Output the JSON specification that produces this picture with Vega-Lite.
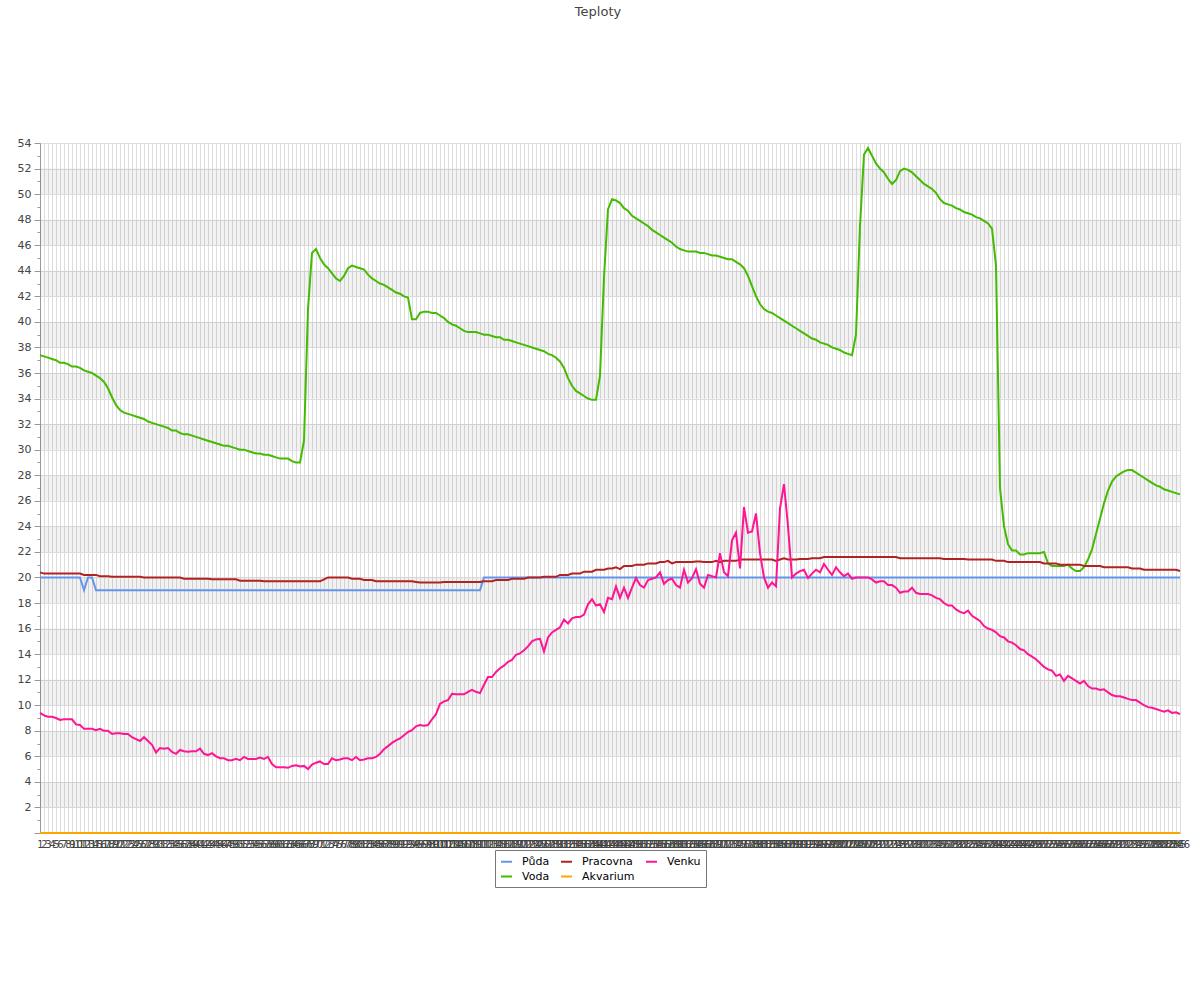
{
"$schema": "https://vega.github.io/schema/vega-lite/v6.json",
"width": 1140, "height": 690,
"autosize": "none",
"padding": {"left": 40, "top": 143, "right": 20, "bottom": 167},
"background": "white",
"config": {"font": "DejaVu Sans", "view": {"stroke": null}},
"title": {"text": "Teploty", "fontSize": 13, "fontWeight": "normal", "color": "#444", "offset": 118, "anchor": "middle", "dx": -12},
"datasets": {
"bands": [{"lo":2,"hi":4},{"lo":6,"hi":8},{"lo":10,"hi":12},{"lo":14,"hi":16},{"lo":18,"hi":20},{"lo":22,"hi":24},{"lo":26,"hi":28},{"lo":30,"hi":32},{"lo":34,"hi":36},{"lo":38,"hi":40},{"lo":42,"hi":44},{"lo":46,"hi":48},{"lo":50,"hi":52}],
"temps": [
{"t":1,"Půda":20,"Voda":37.4,"Pracovna":20.4,"Akvarium":0,"Venku":9.4},
{"t":2,"Půda":20,"Voda":37.3,"Pracovna":20.3,"Akvarium":0,"Venku":9.2},
{"t":3,"Půda":20,"Voda":37.2,"Pracovna":20.3,"Akvarium":0,"Venku":9.1},
{"t":4,"Půda":20,"Voda":37.1,"Pracovna":20.3,"Akvarium":0,"Venku":9.1},
{"t":5,"Půda":20,"Voda":37.0,"Pracovna":20.3,"Akvarium":0,"Venku":9.0},
{"t":6,"Půda":20,"Voda":36.8,"Pracovna":20.3,"Akvarium":0,"Venku":8.85},
{"t":7,"Půda":20,"Voda":36.8,"Pracovna":20.3,"Akvarium":0,"Venku":8.9},
{"t":8,"Půda":20,"Voda":36.7,"Pracovna":20.3,"Akvarium":0,"Venku":8.9},
{"t":9,"Půda":20,"Voda":36.5,"Pracovna":20.3,"Akvarium":0,"Venku":8.9},
{"t":10,"Půda":20,"Voda":36.5,"Pracovna":20.3,"Akvarium":0,"Venku":8.5},
{"t":11,"Půda":20,"Voda":36.4,"Pracovna":20.3,"Akvarium":0,"Venku":8.45},
{"t":12,"Půda":19,"Voda":36.2,"Pracovna":20.2,"Akvarium":0,"Venku":8.15},
{"t":13,"Půda":20,"Voda":36.1,"Pracovna":20.2,"Akvarium":0,"Venku":8.15},
{"t":14,"Půda":20,"Voda":36.0,"Pracovna":20.2,"Akvarium":0,"Venku":8.15},
{"t":15,"Půda":19,"Voda":35.8,"Pracovna":20.2,"Akvarium":0,"Venku":8.05},
{"t":16,"Půda":19,"Voda":35.6,"Pracovna":20.1,"Akvarium":0,"Venku":8.15},
{"t":17,"Půda":19,"Voda":35.3,"Pracovna":20.1,"Akvarium":0,"Venku":8.0},
{"t":18,"Půda":19,"Voda":34.8,"Pracovna":20.1,"Akvarium":0,"Venku":8.0},
{"t":19,"Půda":19,"Voda":34.1,"Pracovna":20.05,"Akvarium":0,"Venku":7.75},
{"t":20,"Půda":19,"Voda":33.5,"Pracovna":20.05,"Akvarium":0,"Venku":7.8},
{"t":21,"Půda":19,"Voda":33.1,"Pracovna":20.05,"Akvarium":0,"Venku":7.8},
{"t":22,"Půda":19,"Voda":32.9,"Pracovna":20.05,"Akvarium":0,"Venku":7.75},
{"t":23,"Půda":19,"Voda":32.8,"Pracovna":20.05,"Akvarium":0,"Venku":7.75},
{"t":24,"Půda":19,"Voda":32.7,"Pracovna":20.05,"Akvarium":0,"Venku":7.5},
{"t":25,"Půda":19,"Voda":32.6,"Pracovna":20.05,"Akvarium":0,"Venku":7.35},
{"t":26,"Půda":19,"Voda":32.5,"Pracovna":20.05,"Akvarium":0,"Venku":7.2},
{"t":27,"Půda":19,"Voda":32.4,"Pracovna":20.0,"Akvarium":0,"Venku":7.5},
{"t":28,"Půda":19,"Voda":32.2,"Pracovna":20.0,"Akvarium":0,"Venku":7.2},
{"t":29,"Půda":19,"Voda":32.1,"Pracovna":20.0,"Akvarium":0,"Venku":6.9},
{"t":30,"Půda":19,"Voda":32.0,"Pracovna":20.0,"Akvarium":0,"Venku":6.3},
{"t":31,"Půda":19,"Voda":31.9,"Pracovna":20.0,"Akvarium":0,"Venku":6.65},
{"t":32,"Půda":19,"Voda":31.8,"Pracovna":20.0,"Akvarium":0,"Venku":6.6},
{"t":33,"Půda":19,"Voda":31.7,"Pracovna":20.0,"Akvarium":0,"Venku":6.65},
{"t":34,"Půda":19,"Voda":31.5,"Pracovna":20.0,"Akvarium":0,"Venku":6.35},
{"t":35,"Půda":19,"Voda":31.5,"Pracovna":20.0,"Akvarium":0,"Venku":6.2},
{"t":36,"Půda":19,"Voda":31.3,"Pracovna":20.0,"Akvarium":0,"Venku":6.5},
{"t":37,"Půda":19,"Voda":31.2,"Pracovna":19.9,"Akvarium":0,"Venku":6.4},
{"t":38,"Půda":19,"Voda":31.2,"Pracovna":19.9,"Akvarium":0,"Venku":6.35},
{"t":39,"Půda":19,"Voda":31.1,"Pracovna":19.9,"Akvarium":0,"Venku":6.4},
{"t":40,"Půda":19,"Voda":31.0,"Pracovna":19.9,"Akvarium":0,"Venku":6.4},
{"t":41,"Půda":19,"Voda":30.9,"Pracovna":19.9,"Akvarium":0,"Venku":6.6},
{"t":42,"Půda":19,"Voda":30.8,"Pracovna":19.9,"Akvarium":0,"Venku":6.2},
{"t":43,"Půda":19,"Voda":30.7,"Pracovna":19.9,"Akvarium":0,"Venku":6.1},
{"t":44,"Půda":19,"Voda":30.6,"Pracovna":19.85,"Akvarium":0,"Venku":6.25},
{"t":45,"Půda":19,"Voda":30.5,"Pracovna":19.85,"Akvarium":0,"Venku":6.0},
{"t":46,"Půda":19,"Voda":30.4,"Pracovna":19.85,"Akvarium":0,"Venku":5.85},
{"t":47,"Půda":19,"Voda":30.3,"Pracovna":19.85,"Akvarium":0,"Venku":5.85},
{"t":48,"Půda":19,"Voda":30.3,"Pracovna":19.85,"Akvarium":0,"Venku":5.7},
{"t":49,"Půda":19,"Voda":30.2,"Pracovna":19.85,"Akvarium":0,"Venku":5.7},
{"t":50,"Půda":19,"Voda":30.1,"Pracovna":19.85,"Akvarium":0,"Venku":5.8},
{"t":51,"Půda":19,"Voda":30.0,"Pracovna":19.75,"Akvarium":0,"Venku":5.7},
{"t":52,"Půda":19,"Voda":30.0,"Pracovna":19.75,"Akvarium":0,"Venku":5.95},
{"t":53,"Půda":19,"Voda":29.9,"Pracovna":19.75,"Akvarium":0,"Venku":5.8},
{"t":54,"Půda":19,"Voda":29.8,"Pracovna":19.75,"Akvarium":0,"Venku":5.8},
{"t":55,"Půda":19,"Voda":29.7,"Pracovna":19.75,"Akvarium":0,"Venku":5.8},
{"t":56,"Půda":19,"Voda":29.7,"Pracovna":19.75,"Akvarium":0,"Venku":5.9},
{"t":57,"Půda":19,"Voda":29.6,"Pracovna":19.7,"Akvarium":0,"Venku":5.8},
{"t":58,"Půda":19,"Voda":29.6,"Pracovna":19.7,"Akvarium":0,"Venku":5.95},
{"t":59,"Půda":19,"Voda":29.5,"Pracovna":19.7,"Akvarium":0,"Venku":5.4},
{"t":60,"Půda":19,"Voda":29.4,"Pracovna":19.7,"Akvarium":0,"Venku":5.15},
{"t":61,"Půda":19,"Voda":29.3,"Pracovna":19.7,"Akvarium":0,"Venku":5.15},
{"t":62,"Půda":19,"Voda":29.3,"Pracovna":19.7,"Akvarium":0,"Venku":5.15},
{"t":63,"Půda":19,"Voda":29.3,"Pracovna":19.7,"Akvarium":0,"Venku":5.1},
{"t":64,"Půda":19,"Voda":29.1,"Pracovna":19.7,"Akvarium":0,"Venku":5.25},
{"t":65,"Půda":19,"Voda":29.0,"Pracovna":19.7,"Akvarium":0,"Venku":5.3},
{"t":66,"Půda":19,"Voda":29.0,"Pracovna":19.7,"Akvarium":0,"Venku":5.2},
{"t":67,"Půda":19,"Voda":30.7,"Pracovna":19.7,"Akvarium":0,"Venku":5.25},
{"t":68,"Půda":19,"Voda":41.0,"Pracovna":19.7,"Akvarium":0,"Venku":5.0},
{"t":69,"Půda":19,"Voda":45.4,"Pracovna":19.7,"Akvarium":0,"Venku":5.35},
{"t":70,"Půda":19,"Voda":45.7,"Pracovna":19.7,"Akvarium":0,"Venku":5.5},
{"t":71,"Půda":19,"Voda":45.0,"Pracovna":19.7,"Akvarium":0,"Venku":5.6},
{"t":72,"Půda":19,"Voda":44.5,"Pracovna":19.85,"Akvarium":0,"Venku":5.4},
{"t":73,"Půda":19,"Voda":44.2,"Pracovna":20.0,"Akvarium":0,"Venku":5.4},
{"t":74,"Půda":19,"Voda":43.8,"Pracovna":20.0,"Akvarium":0,"Venku":5.85},
{"t":75,"Půda":19,"Voda":43.4,"Pracovna":20.0,"Akvarium":0,"Venku":5.7},
{"t":76,"Půda":19,"Voda":43.2,"Pracovna":20.0,"Akvarium":0,"Venku":5.75},
{"t":77,"Půda":19,"Voda":43.6,"Pracovna":20.0,"Akvarium":0,"Venku":5.85},
{"t":78,"Půda":19,"Voda":44.2,"Pracovna":20.0,"Akvarium":0,"Venku":5.85},
{"t":79,"Půda":19,"Voda":44.4,"Pracovna":19.9,"Akvarium":0,"Venku":5.7},
{"t":80,"Půda":19,"Voda":44.3,"Pracovna":19.9,"Akvarium":0,"Venku":5.95},
{"t":81,"Půda":19,"Voda":44.2,"Pracovna":19.9,"Akvarium":0,"Venku":5.7},
{"t":82,"Půda":19,"Voda":44.1,"Pracovna":19.8,"Akvarium":0,"Venku":5.75},
{"t":83,"Půda":19,"Voda":43.7,"Pracovna":19.8,"Akvarium":0,"Venku":5.85},
{"t":84,"Půda":19,"Voda":43.4,"Pracovna":19.8,"Akvarium":0,"Venku":5.85},
{"t":85,"Půda":19,"Voda":43.2,"Pracovna":19.7,"Akvarium":0,"Venku":5.95},
{"t":86,"Půda":19,"Voda":43.0,"Pracovna":19.7,"Akvarium":0,"Venku":6.2},
{"t":87,"Půda":19,"Voda":42.9,"Pracovna":19.7,"Akvarium":0,"Venku":6.55},
{"t":88,"Půda":19,"Voda":42.7,"Pracovna":19.7,"Akvarium":0,"Venku":6.8},
{"t":89,"Půda":19,"Voda":42.5,"Pracovna":19.7,"Akvarium":0,"Venku":7.05},
{"t":90,"Půda":19,"Voda":42.3,"Pracovna":19.7,"Akvarium":0,"Venku":7.25},
{"t":91,"Půda":19,"Voda":42.2,"Pracovna":19.7,"Akvarium":0,"Venku":7.4},
{"t":92,"Půda":19,"Voda":42.0,"Pracovna":19.7,"Akvarium":0,"Venku":7.65},
{"t":93,"Půda":19,"Voda":41.9,"Pracovna":19.7,"Akvarium":0,"Venku":7.9},
{"t":94,"Půda":19,"Voda":40.2,"Pracovna":19.7,"Akvarium":0,"Venku":8.05},
{"t":95,"Půda":19,"Voda":40.2,"Pracovna":19.65,"Akvarium":0,"Venku":8.35},
{"t":96,"Půda":19,"Voda":40.7,"Pracovna":19.6,"Akvarium":0,"Venku":8.45},
{"t":97,"Půda":19,"Voda":40.8,"Pracovna":19.6,"Akvarium":0,"Venku":8.4},
{"t":98,"Půda":19,"Voda":40.8,"Pracovna":19.6,"Akvarium":0,"Venku":8.45},
{"t":99,"Půda":19,"Voda":40.7,"Pracovna":19.6,"Akvarium":0,"Venku":8.9},
{"t":100,"Půda":19,"Voda":40.7,"Pracovna":19.6,"Akvarium":0,"Venku":9.3},
{"t":101,"Půda":19,"Voda":40.5,"Pracovna":19.6,"Akvarium":0,"Venku":10.1},
{"t":102,"Půda":19,"Voda":40.3,"Pracovna":19.65,"Akvarium":0,"Venku":10.3},
{"t":103,"Půda":19,"Voda":40.0,"Pracovna":19.65,"Akvarium":0,"Venku":10.4},
{"t":104,"Půda":19,"Voda":39.8,"Pracovna":19.65,"Akvarium":0,"Venku":10.9},
{"t":105,"Půda":19,"Voda":39.7,"Pracovna":19.65,"Akvarium":0,"Venku":10.85},
{"t":106,"Půda":19,"Voda":39.5,"Pracovna":19.65,"Akvarium":0,"Venku":10.85},
{"t":107,"Půda":19,"Voda":39.3,"Pracovna":19.65,"Akvarium":0,"Venku":10.85},
{"t":108,"Půda":19,"Voda":39.2,"Pracovna":19.65,"Akvarium":0,"Venku":11.05},
{"t":109,"Půda":19,"Voda":39.2,"Pracovna":19.65,"Akvarium":0,"Venku":11.2},
{"t":110,"Půda":19,"Voda":39.2,"Pracovna":19.65,"Akvarium":0,"Venku":11.05},
{"t":111,"Půda":19,"Voda":39.1,"Pracovna":19.65,"Akvarium":0,"Venku":10.95},
{"t":112,"Půda":20,"Voda":39.0,"Pracovna":19.7,"Akvarium":0,"Venku":11.6},
{"t":113,"Půda":20,"Voda":39.0,"Pracovna":19.7,"Akvarium":0,"Venku":12.2},
{"t":114,"Půda":20,"Voda":38.9,"Pracovna":19.7,"Akvarium":0,"Venku":12.2},
{"t":115,"Půda":20,"Voda":38.8,"Pracovna":19.8,"Akvarium":0,"Venku":12.6},
{"t":116,"Půda":20,"Voda":38.8,"Pracovna":19.8,"Akvarium":0,"Venku":12.9},
{"t":117,"Půda":20,"Voda":38.6,"Pracovna":19.8,"Akvarium":0,"Venku":13.1},
{"t":118,"Půda":20,"Voda":38.6,"Pracovna":19.8,"Akvarium":0,"Venku":13.4},
{"t":119,"Půda":20,"Voda":38.5,"Pracovna":19.9,"Akvarium":0,"Venku":13.55},
{"t":120,"Půda":20,"Voda":38.4,"Pracovna":19.9,"Akvarium":0,"Venku":13.95},
{"t":121,"Půda":20,"Voda":38.3,"Pracovna":19.9,"Akvarium":0,"Venku":14.05},
{"t":122,"Půda":20,"Voda":38.2,"Pracovna":19.9,"Akvarium":0,"Venku":14.3},
{"t":123,"Půda":20,"Voda":38.1,"Pracovna":20.0,"Akvarium":0,"Venku":14.6},
{"t":124,"Půda":20,"Voda":38.0,"Pracovna":20.0,"Akvarium":0,"Venku":15.0},
{"t":125,"Půda":20,"Voda":37.9,"Pracovna":20.0,"Akvarium":0,"Venku":15.15},
{"t":126,"Půda":20,"Voda":37.8,"Pracovna":20.0,"Akvarium":0,"Venku":15.2},
{"t":127,"Půda":20,"Voda":37.7,"Pracovna":20.05,"Akvarium":0,"Venku":14.2},
{"t":128,"Půda":20,"Voda":37.5,"Pracovna":20.05,"Akvarium":0,"Venku":15.3},
{"t":129,"Půda":20,"Voda":37.4,"Pracovna":20.05,"Akvarium":0,"Venku":15.7},
{"t":130,"Půda":20,"Voda":37.2,"Pracovna":20.05,"Akvarium":0,"Venku":15.9},
{"t":131,"Půda":20,"Voda":36.9,"Pracovna":20.2,"Akvarium":0,"Venku":16.1},
{"t":132,"Půda":20,"Voda":36.4,"Pracovna":20.2,"Akvarium":0,"Venku":16.7},
{"t":133,"Půda":20,"Voda":35.6,"Pracovna":20.2,"Akvarium":0,"Venku":16.4},
{"t":134,"Půda":20,"Voda":35.0,"Pracovna":20.3,"Akvarium":0,"Venku":16.8},
{"t":135,"Půda":20,"Voda":34.6,"Pracovna":20.3,"Akvarium":0,"Venku":16.9},
{"t":136,"Půda":20,"Voda":34.4,"Pracovna":20.3,"Akvarium":0,"Venku":16.9},
{"t":137,"Půda":20,"Voda":34.2,"Pracovna":20.45,"Akvarium":0,"Venku":17.1},
{"t":138,"Půda":20,"Voda":34.0,"Pracovna":20.45,"Akvarium":0,"Venku":17.9},
{"t":139,"Půda":20,"Voda":33.9,"Pracovna":20.45,"Akvarium":0,"Venku":18.3},
{"t":140,"Půda":20,"Voda":33.9,"Pracovna":20.6,"Akvarium":0,"Venku":17.8},
{"t":141,"Půda":20,"Voda":35.8,"Pracovna":20.6,"Akvarium":0,"Venku":17.9},
{"t":142,"Půda":20,"Voda":43.5,"Pracovna":20.6,"Akvarium":0,"Venku":17.3},
{"t":143,"Půda":20,"Voda":48.8,"Pracovna":20.7,"Akvarium":0,"Venku":18.4},
{"t":144,"Půda":20,"Voda":49.6,"Pracovna":20.7,"Akvarium":0,"Venku":18.3},
{"t":145,"Půda":20,"Voda":49.5,"Pracovna":20.8,"Akvarium":0,"Venku":19.3},
{"t":146,"Půda":20,"Voda":49.3,"Pracovna":20.65,"Akvarium":0,"Venku":18.4},
{"t":147,"Půda":20,"Voda":48.9,"Pracovna":20.9,"Akvarium":0,"Venku":19.2},
{"t":148,"Půda":20,"Voda":48.7,"Pracovna":20.9,"Akvarium":0,"Venku":18.4},
{"t":149,"Půda":20,"Voda":48.3,"Pracovna":20.9,"Akvarium":0,"Venku":19.2},
{"t":150,"Půda":20,"Voda":48.1,"Pracovna":21.0,"Akvarium":0,"Venku":19.95},
{"t":151,"Půda":20,"Voda":47.9,"Pracovna":21.0,"Akvarium":0,"Venku":19.4},
{"t":152,"Půda":20,"Voda":47.7,"Pracovna":21.0,"Akvarium":0,"Venku":19.2},
{"t":153,"Půda":20,"Voda":47.5,"Pracovna":21.1,"Akvarium":0,"Venku":19.8},
{"t":154,"Půda":20,"Voda":47.2,"Pracovna":21.1,"Akvarium":0,"Venku":19.9},
{"t":155,"Půda":20,"Voda":47.0,"Pracovna":21.1,"Akvarium":0,"Venku":20.0},
{"t":156,"Půda":20,"Voda":46.8,"Pracovna":21.2,"Akvarium":0,"Venku":20.4},
{"t":157,"Půda":20,"Voda":46.6,"Pracovna":21.2,"Akvarium":0,"Venku":19.5},
{"t":158,"Půda":20,"Voda":46.4,"Pracovna":21.3,"Akvarium":0,"Venku":19.8},
{"t":159,"Půda":20,"Voda":46.2,"Pracovna":21.1,"Akvarium":0,"Venku":19.9},
{"t":160,"Půda":20,"Voda":45.9,"Pracovna":21.2,"Akvarium":0,"Venku":19.4},
{"t":161,"Půda":20,"Voda":45.7,"Pracovna":21.2,"Akvarium":0,"Venku":19.2},
{"t":162,"Půda":20,"Voda":45.6,"Pracovna":21.2,"Akvarium":0,"Venku":20.6},
{"t":163,"Půda":20,"Voda":45.5,"Pracovna":21.2,"Akvarium":0,"Venku":19.6},
{"t":164,"Půda":20,"Voda":45.5,"Pracovna":21.2,"Akvarium":0,"Venku":19.95},
{"t":165,"Půda":20,"Voda":45.5,"Pracovna":21.25,"Akvarium":0,"Venku":20.65},
{"t":166,"Půda":20,"Voda":45.4,"Pracovna":21.25,"Akvarium":0,"Venku":19.5},
{"t":167,"Půda":20,"Voda":45.4,"Pracovna":21.2,"Akvarium":0,"Venku":19.2},
{"t":168,"Půda":20,"Voda":45.3,"Pracovna":21.2,"Akvarium":0,"Venku":20.2},
{"t":169,"Půda":20,"Voda":45.2,"Pracovna":21.2,"Akvarium":0,"Venku":20.1},
{"t":170,"Půda":20,"Voda":45.2,"Pracovna":21.3,"Akvarium":0,"Venku":20.0},
{"t":171,"Půda":20,"Voda":45.1,"Pracovna":21.2,"Akvarium":0,"Venku":21.9},
{"t":172,"Půda":20,"Voda":45.0,"Pracovna":21.3,"Akvarium":0,"Venku":20.4},
{"t":173,"Půda":20,"Voda":44.9,"Pracovna":21.3,"Akvarium":0,"Venku":20.1},
{"t":174,"Půda":20,"Voda":44.9,"Pracovna":21.3,"Akvarium":0,"Venku":22.9},
{"t":175,"Půda":20,"Voda":44.7,"Pracovna":21.3,"Akvarium":0,"Venku":23.5},
{"t":176,"Půda":20,"Voda":44.5,"Pracovna":21.4,"Akvarium":0,"Venku":20.7},
{"t":177,"Půda":20,"Voda":44.2,"Pracovna":21.4,"Akvarium":0,"Venku":25.5},
{"t":178,"Půda":20,"Voda":43.6,"Pracovna":21.4,"Akvarium":0,"Venku":23.5},
{"t":179,"Půda":20,"Voda":42.8,"Pracovna":21.4,"Akvarium":0,"Venku":23.6},
{"t":180,"Půda":20,"Voda":42.0,"Pracovna":21.4,"Akvarium":0,"Venku":25.0},
{"t":181,"Půda":20,"Voda":41.4,"Pracovna":21.4,"Akvarium":0,"Venku":21.9},
{"t":182,"Půda":20,"Voda":41.0,"Pracovna":21.4,"Akvarium":0,"Venku":20.0},
{"t":183,"Půda":20,"Voda":40.8,"Pracovna":21.4,"Akvarium":0,"Venku":19.2},
{"t":184,"Půda":20,"Voda":40.7,"Pracovna":21.4,"Akvarium":0,"Venku":19.6},
{"t":185,"Půda":20,"Voda":40.5,"Pracovna":21.3,"Akvarium":0,"Venku":19.3},
{"t":186,"Půda":20,"Voda":40.3,"Pracovna":21.4,"Akvarium":0,"Venku":25.4},
{"t":187,"Půda":20,"Voda":40.1,"Pracovna":21.5,"Akvarium":0,"Venku":27.3},
{"t":188,"Půda":20,"Voda":39.9,"Pracovna":21.4,"Akvarium":0,"Venku":24.0},
{"t":189,"Půda":20,"Voda":39.7,"Pracovna":21.4,"Akvarium":0,"Venku":20.0},
{"t":190,"Půda":20,"Voda":39.5,"Pracovna":21.4,"Akvarium":0,"Venku":20.3},
{"t":191,"Půda":20,"Voda":39.3,"Pracovna":21.45,"Akvarium":0,"Venku":20.5},
{"t":192,"Půda":20,"Voda":39.1,"Pracovna":21.45,"Akvarium":0,"Venku":20.6},
{"t":193,"Půda":20,"Voda":38.9,"Pracovna":21.45,"Akvarium":0,"Venku":19.95},
{"t":194,"Půda":20,"Voda":38.7,"Pracovna":21.5,"Akvarium":0,"Venku":20.3},
{"t":195,"Půda":20,"Voda":38.6,"Pracovna":21.5,"Akvarium":0,"Venku":20.6},
{"t":196,"Půda":20,"Voda":38.4,"Pracovna":21.5,"Akvarium":0,"Venku":20.4},
{"t":197,"Půda":20,"Voda":38.3,"Pracovna":21.6,"Akvarium":0,"Venku":21.05},
{"t":198,"Půda":20,"Voda":38.2,"Pracovna":21.6,"Akvarium":0,"Venku":20.6},
{"t":199,"Půda":20,"Voda":38.0,"Pracovna":21.6,"Akvarium":0,"Venku":20.2},
{"t":200,"Půda":20,"Voda":37.9,"Pracovna":21.6,"Akvarium":0,"Venku":20.8},
{"t":201,"Půda":20,"Voda":37.8,"Pracovna":21.6,"Akvarium":0,"Venku":20.4},
{"t":202,"Půda":20,"Voda":37.6,"Pracovna":21.6,"Akvarium":0,"Venku":20.1},
{"t":203,"Půda":20,"Voda":37.5,"Pracovna":21.6,"Akvarium":0,"Venku":20.3},
{"t":204,"Půda":20,"Voda":37.4,"Pracovna":21.6,"Akvarium":0,"Venku":19.9},
{"t":205,"Půda":20,"Voda":39.0,"Pracovna":21.6,"Akvarium":0,"Venku":20.0},
{"t":206,"Půda":20,"Voda":47.5,"Pracovna":21.6,"Akvarium":0,"Venku":20.0},
{"t":207,"Půda":20,"Voda":53.1,"Pracovna":21.6,"Akvarium":0,"Venku":20.0},
{"t":208,"Půda":20,"Voda":53.6,"Pracovna":21.6,"Akvarium":0,"Venku":20.0},
{"t":209,"Půda":20,"Voda":53.0,"Pracovna":21.6,"Akvarium":0,"Venku":19.85},
{"t":210,"Půda":20,"Voda":52.4,"Pracovna":21.6,"Akvarium":0,"Venku":19.6},
{"t":211,"Půda":20,"Voda":52.0,"Pracovna":21.6,"Akvarium":0,"Venku":19.7},
{"t":212,"Půda":20,"Voda":51.7,"Pracovna":21.6,"Akvarium":0,"Venku":19.7},
{"t":213,"Půda":20,"Voda":51.2,"Pracovna":21.6,"Akvarium":0,"Venku":19.4},
{"t":214,"Půda":20,"Voda":50.8,"Pracovna":21.6,"Akvarium":0,"Venku":19.4},
{"t":215,"Půda":20,"Voda":51.1,"Pracovna":21.6,"Akvarium":0,"Venku":19.2},
{"t":216,"Půda":20,"Voda":51.8,"Pracovna":21.5,"Akvarium":0,"Venku":18.8},
{"t":217,"Půda":20,"Voda":52.0,"Pracovna":21.5,"Akvarium":0,"Venku":18.9},
{"t":218,"Půda":20,"Voda":51.9,"Pracovna":21.5,"Akvarium":0,"Venku":18.9},
{"t":219,"Půda":20,"Voda":51.7,"Pracovna":21.5,"Akvarium":0,"Venku":19.2},
{"t":220,"Půda":20,"Voda":51.4,"Pracovna":21.5,"Akvarium":0,"Venku":18.8},
{"t":221,"Půda":20,"Voda":51.1,"Pracovna":21.5,"Akvarium":0,"Venku":18.7},
{"t":222,"Půda":20,"Voda":50.8,"Pracovna":21.5,"Akvarium":0,"Venku":18.7},
{"t":223,"Půda":20,"Voda":50.6,"Pracovna":21.5,"Akvarium":0,"Venku":18.7},
{"t":224,"Půda":20,"Voda":50.4,"Pracovna":21.5,"Akvarium":0,"Venku":18.6},
{"t":225,"Půda":20,"Voda":50.1,"Pracovna":21.5,"Akvarium":0,"Venku":18.4},
{"t":226,"Půda":20,"Voda":49.6,"Pracovna":21.5,"Akvarium":0,"Venku":18.3},
{"t":227,"Půda":20,"Voda":49.3,"Pracovna":21.45,"Akvarium":0,"Venku":18.0},
{"t":228,"Půda":20,"Voda":49.2,"Pracovna":21.45,"Akvarium":0,"Venku":17.8},
{"t":229,"Půda":20,"Voda":49.1,"Pracovna":21.45,"Akvarium":0,"Venku":17.8},
{"t":230,"Půda":20,"Voda":48.9,"Pracovna":21.45,"Akvarium":0,"Venku":17.5},
{"t":231,"Půda":20,"Voda":48.8,"Pracovna":21.45,"Akvarium":0,"Venku":17.3},
{"t":232,"Půda":20,"Voda":48.6,"Pracovna":21.45,"Akvarium":0,"Venku":17.2},
{"t":233,"Půda":20,"Voda":48.5,"Pracovna":21.4,"Akvarium":0,"Venku":17.4},
{"t":234,"Půda":20,"Voda":48.4,"Pracovna":21.4,"Akvarium":0,"Venku":17.0},
{"t":235,"Půda":20,"Voda":48.2,"Pracovna":21.4,"Akvarium":0,"Venku":16.8},
{"t":236,"Půda":20,"Voda":48.1,"Pracovna":21.4,"Akvarium":0,"Venku":16.6},
{"t":237,"Půda":20,"Voda":47.9,"Pracovna":21.4,"Akvarium":0,"Venku":16.2},
{"t":238,"Půda":20,"Voda":47.7,"Pracovna":21.4,"Akvarium":0,"Venku":16.0},
{"t":239,"Půda":20,"Voda":47.3,"Pracovna":21.4,"Akvarium":0,"Venku":15.9},
{"t":240,"Půda":20,"Voda":44.4,"Pracovna":21.3,"Akvarium":0,"Venku":15.7},
{"t":241,"Půda":20,"Voda":27.0,"Pracovna":21.3,"Akvarium":0,"Venku":15.4},
{"t":242,"Půda":20,"Voda":24.0,"Pracovna":21.3,"Akvarium":0,"Venku":15.3},
{"t":243,"Půda":20,"Voda":22.6,"Pracovna":21.2,"Akvarium":0,"Venku":15.0},
{"t":244,"Půda":20,"Voda":22.1,"Pracovna":21.2,"Akvarium":0,"Venku":14.9},
{"t":245,"Půda":20,"Voda":22.1,"Pracovna":21.2,"Akvarium":0,"Venku":14.7},
{"t":246,"Půda":20,"Voda":21.8,"Pracovna":21.2,"Akvarium":0,"Venku":14.4},
{"t":247,"Půda":20,"Voda":21.8,"Pracovna":21.2,"Akvarium":0,"Venku":14.3},
{"t":248,"Půda":20,"Voda":21.9,"Pracovna":21.2,"Akvarium":0,"Venku":14.0},
{"t":249,"Půda":20,"Voda":21.9,"Pracovna":21.2,"Akvarium":0,"Venku":13.8},
{"t":250,"Půda":20,"Voda":21.9,"Pracovna":21.2,"Akvarium":0,"Venku":13.6},
{"t":251,"Půda":20,"Voda":21.9,"Pracovna":21.2,"Akvarium":0,"Venku":13.3},
{"t":252,"Půda":20,"Voda":22.0,"Pracovna":21.1,"Akvarium":0,"Venku":13.0},
{"t":253,"Půda":20,"Voda":21.1,"Pracovna":21.1,"Akvarium":0,"Venku":12.8},
{"t":254,"Půda":20,"Voda":20.9,"Pracovna":21.1,"Akvarium":0,"Venku":12.7},
{"t":255,"Půda":20,"Voda":20.9,"Pracovna":21.1,"Akvarium":0,"Venku":12.3},
{"t":256,"Půda":20,"Voda":20.9,"Pracovna":21.0,"Akvarium":0,"Venku":12.4},
{"t":257,"Půda":20,"Voda":20.9,"Pracovna":21.0,"Akvarium":0,"Venku":11.9},
{"t":258,"Půda":20,"Voda":21.0,"Pracovna":21.0,"Akvarium":0,"Venku":12.3},
{"t":259,"Půda":20,"Voda":20.7,"Pracovna":21.0,"Akvarium":0,"Venku":12.1},
{"t":260,"Půda":20,"Voda":20.5,"Pracovna":21.0,"Akvarium":0,"Venku":11.9},
{"t":261,"Půda":20,"Voda":20.5,"Pracovna":21.0,"Akvarium":0,"Venku":11.7},
{"t":262,"Půda":20,"Voda":20.8,"Pracovna":20.9,"Akvarium":0,"Venku":11.9},
{"t":263,"Půda":20,"Voda":21.4,"Pracovna":20.9,"Akvarium":0,"Venku":11.5},
{"t":264,"Půda":20,"Voda":22.2,"Pracovna":20.9,"Akvarium":0,"Venku":11.3},
{"t":265,"Půda":20,"Voda":23.4,"Pracovna":20.9,"Akvarium":0,"Venku":11.3},
{"t":266,"Půda":20,"Voda":24.6,"Pracovna":20.9,"Akvarium":0,"Venku":11.2},
{"t":267,"Půda":20,"Voda":25.8,"Pracovna":20.8,"Akvarium":0,"Venku":11.25},
{"t":268,"Půda":20,"Voda":26.8,"Pracovna":20.8,"Akvarium":0,"Venku":11.0},
{"t":269,"Půda":20,"Voda":27.5,"Pracovna":20.8,"Akvarium":0,"Venku":10.8},
{"t":270,"Půda":20,"Voda":27.9,"Pracovna":20.8,"Akvarium":0,"Venku":10.7},
{"t":271,"Půda":20,"Voda":28.1,"Pracovna":20.8,"Akvarium":0,"Venku":10.7},
{"t":272,"Půda":20,"Voda":28.3,"Pracovna":20.8,"Akvarium":0,"Venku":10.6},
{"t":273,"Půda":20,"Voda":28.4,"Pracovna":20.8,"Akvarium":0,"Venku":10.5},
{"t":274,"Půda":20,"Voda":28.4,"Pracovna":20.7,"Akvarium":0,"Venku":10.4},
{"t":275,"Půda":20,"Voda":28.2,"Pracovna":20.7,"Akvarium":0,"Venku":10.4},
{"t":276,"Půda":20,"Voda":28.0,"Pracovna":20.7,"Akvarium":0,"Venku":10.2},
{"t":277,"Půda":20,"Voda":27.8,"Pracovna":20.6,"Akvarium":0,"Venku":10.0},
{"t":278,"Půda":20,"Voda":27.6,"Pracovna":20.6,"Akvarium":0,"Venku":9.85},
{"t":279,"Půda":20,"Voda":27.4,"Pracovna":20.6,"Akvarium":0,"Venku":9.8},
{"t":280,"Půda":20,"Voda":27.2,"Pracovna":20.6,"Akvarium":0,"Venku":9.7},
{"t":281,"Půda":20,"Voda":27.1,"Pracovna":20.6,"Akvarium":0,"Venku":9.6},
{"t":282,"Půda":20,"Voda":26.9,"Pracovna":20.6,"Akvarium":0,"Venku":9.5},
{"t":283,"Půda":20,"Voda":26.8,"Pracovna":20.6,"Akvarium":0,"Venku":9.6},
{"t":284,"Půda":20,"Voda":26.7,"Pracovna":20.6,"Akvarium":0,"Venku":9.4},
{"t":285,"Půda":20,"Voda":26.6,"Pracovna":20.6,"Akvarium":0,"Venku":9.45},
{"t":286,"Půda":20,"Voda":26.5,"Pracovna":20.5,"Akvarium":0,"Venku":9.3}
]},
"resolve": {"axis": {"y": "independent"}},
"layer": [
{"data": {"name": "bands"},
 "mark": {"type": "rect", "fill": "#000000", "opacity": 0.05},
 "encoding": {
   "y": {"field": "lo", "type": "quantitative", "scale": {"domain": [0, 54], "nice": false, "zero": false}, "axis": null},
   "y2": {"field": "hi"}
 }},
{"data": {"name": "temps"},
 "transform": [{"fold": ["Půda", "Voda", "Pracovna", "Akvarium", "Venku"], "as": ["serie", "hodnota"]}],
 "mark": {"type": "line", "strokeWidth": 2, "interpolate": "linear"},
 "encoding": {
   "x": {"field": "t", "type": "ordinal", "scale": {"type": "point", "padding": 0},
         "axis": {"title": null, "labelAngle": 0, "labelOverlap": false, "labelFlush": false, "labelFontSize": 10, "labelColor": "#444", "ticks": false, "domain": true, "domainColor": "#999", "grid": true, "gridColor": "#dddddd", "labelPadding": 6, "labelBound": false}},
   "y": {"field": "hodnota", "type": "quantitative", "scale": {"domain": [0, 54], "nice": false, "zero": false},
         "axis": {"title": null, "values": [0,1,2,3,4,5,6,7,8,9,10,11,12,13,14,15,16,17,18,19,20,21,22,23,24,25,26,27,28,29,30,31,32,33,34,35,36,37,38,39,40,41,42,43,44,45,46,47,48,49,50,51,52,53,54],
                  "labelExpr": "datum.value % 2 == 0 && datum.value > 0 ? datum.value : ''",
                  "labelOverlap": false, "labelFlush": false, "labelFontSize": 11, "labelColor": "#444", "labelPadding": 3,
                  "tickSize": {"condition": {"test": "datum.value % 2 == 0", "value": 6}, "value": 3},
                  "tickColor": "#999", "domainColor": "#999",
                  "grid": true,
                  "gridColor": {"condition": {"test": "datum.value % 2 == 0", "value": "#dddddd"}, "value": "rgba(255,255,255,0)"}}},
   "color": {"field": "serie", "type": "nominal",
             "scale": {"domain": ["Půda", "Pracovna", "Venku", "Voda", "Akvarium"], "range": ["#6495ed", "#b22222", "#ff1493", "#44bb00", "#ffa500"]},
             "legend": {"title": null, "orient": "none", "legendX": 455, "legendY": 707, "direction": "horizontal", "columns": 3, "symbolType": "stroke", "symbolStrokeWidth": 2, "symbolSize": 120, "labelFontSize": 11, "labelColor": "#000", "labelOffset": 9, "strokeColor": "#777", "fillColor": "white", "padding": 5, "columnPadding": 7, "rowPadding": 3}}
 }}
]
}
